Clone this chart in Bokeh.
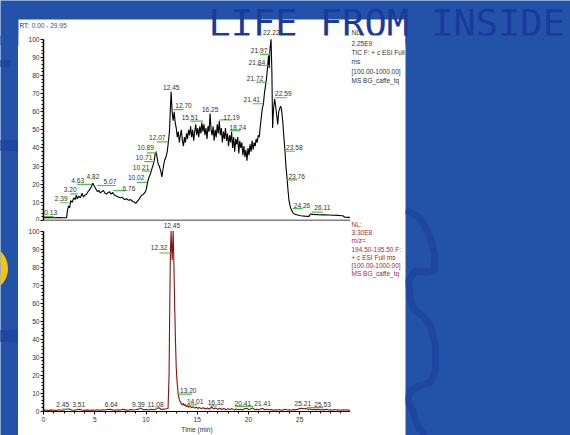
from bokeh.plotting import figure
from bokeh.models import Range1d, SingleIntervalTicker, Span
from bokeh.layouts import column, row
from bokeh.embed import file_html
from bokeh.resources import INLINE
from bokeh.core.properties import value

BLUE = "#2353a8"
DARK_BLUE = "#1f47a2"
NAVY = "#1b3a9c"
GREEN = "#4cc04c"
TXT = "#333333"
RED_TXT = "#a02a2a"
FONT = "Liberation Sans"

# ---------------- data: TIC trace (top) ----------------
tic_time = [0.0, 0.5, 1.0, 1.5, 2.0, 2.25, 2.35, 2.45, 2.55, 2.65, 2.8, 2.95, 3.1, 3.2, 3.3, 3.45, 3.6,
            3.75, 3.9, 4.05, 4.2, 4.35, 4.5, 4.65, 4.82, 4.95, 5.1, 5.25, 5.4, 5.55, 5.7, 5.85, 6.0,
            6.15, 6.3, 6.45, 6.6, 6.76, 6.9, 7.1, 7.3, 7.5, 7.7, 7.9, 8.1, 8.3, 8.5, 8.7, 8.9, 9.0,
            9.15, 9.3, 9.45, 9.6, 9.75, 9.9, 10.02, 10.15, 10.3, 10.45, 10.6, 10.71, 10.8, 10.89,
            11.0, 11.1, 11.2, 11.3, 11.45, 11.55, 11.65, 11.8, 11.95, 12.07, 12.2, 12.3, 12.38,
            12.45, 12.55, 12.65, 12.75, 12.85, 12.95, 13.05, 13.15, 13.25, 13.35, 13.45, 13.55,
            13.65, 13.75, 13.85, 13.95, 14.05, 14.15, 14.25, 14.35, 14.45, 14.55, 14.65, 14.75,
            14.85, 14.95, 15.05, 15.15, 15.25, 15.35, 15.45, 15.55, 15.65, 15.75, 15.85, 15.95,
            16.05, 16.15, 16.25, 16.35, 16.45, 16.55, 16.65, 16.75, 16.85, 16.95, 17.05, 17.15,
            17.25, 17.35, 17.45, 17.55, 17.65, 17.75, 17.85, 17.95, 18.05, 18.15, 18.25, 18.35,
            18.45, 18.55, 18.65, 18.75, 18.85, 18.95, 19.05, 19.15, 19.25, 19.35, 19.45, 19.55,
            19.65, 19.75, 19.85, 19.95, 20.05, 20.15, 20.25, 20.35, 20.45, 20.55, 20.65, 20.75,
            20.85, 20.95, 21.05, 21.15, 21.25, 21.35, 21.45, 21.55, 21.65, 21.75, 21.85, 21.95,
            22.02, 22.1, 22.2, 22.28, 22.35, 22.45, 22.55, 22.65, 22.75, 22.85, 22.95, 23.05,
            23.15, 23.25, 23.35, 23.45, 23.55, 23.65, 23.75, 23.85, 23.95, 24.1, 24.3, 24.5, 24.8,
            25.1, 25.5, 25.9, 26.05, 26.3, 26.8, 27.3, 27.8, 28.3, 28.8, 29.2, 29.4, 29.95]
tic_int = [1.5, 1.6, 1.5, 1.6, 1.5, 1.6, 6.0, 8.0, 7.0, 11.0, 10.0, 12.5, 11.5, 14.0, 12.0, 13.5, 12.5,
           15.0, 13.0, 14.0, 14.5, 16.0, 17.0, 18.5, 20.5, 19.0, 17.5, 16.0, 16.5, 15.2, 16.0, 16.5, 15.0,
           14.6, 15.5, 15.8, 14.5, 15.5, 14.0, 13.5, 13.0, 12.5, 12.8, 11.5, 12.0, 11.2, 11.5, 10.5, 10.0, 9.5,
           10.5, 11.5, 13.0, 14.0, 14.5, 15.5, 17.0, 21.0, 24.0, 26.0, 29.0, 31.0, 33.0, 36.5,
           38.0, 34.0, 31.0, 30.0, 27.0, 24.0, 28.0, 33.0, 35.0, 38.0, 44.0, 50.0, 62.0,
           71.0, 60.0, 55.0, 60.0, 54.0, 51.0, 46.0, 49.0, 43.0, 47.0, 50.0, 44.0,
           41.0, 46.0, 43.0, 48.0, 45.0, 50.0, 47.0, 52.0, 46.0, 50.0, 44.0, 49.0,
           53.0, 47.0, 51.0, 46.0, 52.0, 48.0, 54.0, 49.0, 53.0, 47.0, 51.0, 45.0,
           52.0, 49.0, 59.0, 50.0, 47.0, 52.0, 44.0, 50.0, 46.0, 53.0, 48.0, 55.0,
           47.0, 51.0, 43.0, 49.0, 45.0, 51.0, 44.0, 48.0, 41.0, 47.0, 43.0, 49.0,
           40.0, 46.0, 38.0, 45.0, 42.0, 46.0, 37.0, 44.0, 40.0, 43.0, 36.0, 41.0,
           35.0, 39.0, 33.0, 40.0, 36.0, 42.0, 38.0, 44.0, 39.0, 43.0, 41.0, 45.0,
           43.0, 47.0, 46.0, 52.0, 57.0, 62.0, 64.0, 70.0, 74.0, 78.0, 84.0, 91.0,
           84.0, 95.0, 100.0, 82.0, 51.0, 62.0, 67.0, 63.0, 58.0, 53.0, 60.0, 62.0,
           63.0, 60.0, 54.0, 46.0, 39.0, 30.0, 24.0, 17.0, 11.0, 7.0, 4.5, 3.5, 3.0,
           2.6, 2.4, 2.3, 3.6, 3.4, 3.2, 3.1, 3.0, 2.9, 2.8, 2.6, 1.8, 1.7]

# peak labels of the TIC trace: text, label centre (time, %), green tick (t0, t1, %)
tic_pk_text = ["0.13", "2.39", "3.20", "4.63", "4.82", "5.07", "6.76", "10.02", "10.21", "10.71",
               "10.89", "12.07", "12.45", "12.70", "15.51", "16.25", "17.19", "18.24", "21.41",
               "21.72", "21.84", "21.97", "22.22", "22.59", "23.58", "23.76", "24.26", "26.11"]
tic_pk_x = [0.71, 1.73, 2.60, 3.33, 4.82, 6.49, 8.34, 9.04, 9.52, 9.81,
            9.96, 11.10, 12.46, 13.66, 14.28, 16.26, 18.33, 18.96, 20.32,
            20.64, 20.81, 21.03, 22.23, 23.40, 24.47, 24.70, 25.22, 27.20]
tic_pk_y = [4.6, 12.0, 16.9, 22.1, 24.4, 21.5, 17.8, 23.9, 29.4, 34.9,
            40.1, 45.9, 73.5, 63.4, 56.6, 61.1, 57.0, 51.5, 66.6,
            78.2, 87.3, 93.8, 103.8, 69.9, 40.1, 24.3, 8.3, 7.0]
tic_g_x0 = [0.03, 1.66, 2.63, 3.28, 5.23, 6.79, 9.12, 9.61, 9.83, 10.10, 11.07, 12.69, 14.31,
            17.17, 18.21, 20.42, 20.74, 20.87, 21.13, 22.59, 23.56, 23.79, 24.31, 26.16]
tic_g_x1 = [1.00, 2.46, 3.34, 4.74, 7.01, 8.08, 10.10, 10.42, 10.81, 11.07, 12.20, 13.66, 15.58,
            18.37, 19.18, 21.45, 21.84, 21.94, 22.11, 23.73, 24.54, 24.76, 25.29, 27.23]
tic_g_y = [2.2, 9.8, 14.7, 19.9, 19.3, 16.5, 21.0, 27.2, 32.5, 37.3, 43.4, 61.2, 54.8,
           55.5, 49.6, 64.4, 76.3, 85.5, 91.6, 67.7, 38.2, 22.4, 6.5, 4.6]

tic_info = ["NL:", "2.25E9", "TIC F: + c ESI Full", "ms", "[100.00-1000.00]", "MS BG_caffe_tq"]

# ---------------- data: m/z 194.5-195.5 trace (bottom) ----------------
sim_time = [0.0, 0.25, 0.5, 0.75, 1.0, 1.25, 1.5, 1.75, 2.0, 2.25, 2.5, 2.75, 3.0, 3.25, 3.5, 3.75,
            4.0, 4.25, 4.5, 4.75, 5.0, 5.25, 5.5, 5.75, 6.0, 6.25, 6.5, 6.75, 7.0, 7.25, 7.5, 7.75,
            8.0, 8.25, 8.5, 8.75, 9.0, 9.25, 9.5, 9.75, 10.0, 10.25, 10.5, 10.75, 11.0, 11.25, 11.5,
            11.75, 12.0, 12.15, 12.25, 12.32, 12.38, 12.45, 12.5, 12.55, 12.6, 12.65, 12.72, 12.8,
            12.88, 12.95, 13.05, 13.15, 13.25, 13.35, 13.45, 13.55, 13.65, 13.75, 13.85, 13.95,
            14.05, 14.15, 14.3, 14.45, 14.6, 14.75, 14.9, 15.05, 15.2, 15.4, 15.6, 15.8, 16.0,
            16.2, 16.4, 16.6, 16.8, 17.0, 17.2, 17.4, 17.6, 17.8, 18.0, 18.2, 18.4, 18.6, 18.8,
            19.0, 19.2, 19.4, 19.6, 19.8, 20.0, 20.2, 20.4, 20.6, 20.8, 21.0, 21.2, 21.4, 21.6,
            21.8, 22.0, 22.2, 22.4, 22.6, 22.8, 23.0, 23.2, 23.4, 23.6, 23.8, 24.0, 24.2, 24.4,
            24.6, 24.8, 25.0, 25.2, 25.4, 25.6, 25.8, 26.0, 26.2, 26.4, 26.6, 26.8, 27.0, 27.2,
            27.4, 27.6, 27.8, 28.0, 28.2, 28.4, 28.6, 28.8, 29.0, 29.2, 29.4, 29.6, 29.8, 29.95]
sim_int = [0.4, 0.6, 0.3, 0.7, 0.5, 0.4, 0.8, 0.5, 0.6, 0.9, 1.2, 0.6, 0.5, 0.8, 1.0, 0.6,
           0.4, 0.7, 0.5, 0.6, 0.4, 0.8, 0.5, 0.7, 0.6, 0.9, 1.0, 0.7, 0.5, 0.8, 0.6, 1.0,
           0.7, 0.5, 0.9, 0.6, 0.8, 1.1, 1.6, 0.7, 0.9, 0.6, 1.0, 0.8, 1.2, 1.9, 0.9,
           1.1, 1.3, 1.5, 20.0, 60.0, 88.0, 100.0, 90.0, 84.0, 92.0, 100.0, 82.0, 58.0,
           38.0, 24.0, 15.0, 9.0, 6.5, 5.0, 4.2, 3.5, 4.4, 3.0, 3.6, 2.5,
           3.2, 2.2, 2.8, 1.9, 2.4, 1.7, 2.2, 1.5, 2.0, 1.4, 1.9, 1.2, 1.7,
           1.1, 2.3, 1.3, 1.8, 1.0, 1.6, 0.9, 1.5, 0.8, 1.3, 0.9, 1.4, 0.7, 1.2,
           0.8, 1.1, 0.6, 1.3, 1.6, 0.9, 1.2, 1.8, 0.8, 1.1, 0.7, 1.3, 1.5, 0.8,
           1.0, 0.6, 0.9, 0.5, 0.8, 0.6, 0.9, 0.5, 0.7, 1.0, 0.6, 0.8, 0.5, 0.9,
           0.7, 1.1, 1.4, 1.6, 1.3, 1.5, 1.0, 1.2, 0.8, 1.1, 0.7, 1.0, 0.6, 0.9,
           0.7, 1.0, 0.6, 0.8, 0.5, 0.9, 0.6, 0.8, 0.5, 0.7, 0.6, 0.8, 0.5, 0.6]

sim_pk_text = ["2.45", "3.51", "6.64", "9.39", "11.08", "12.32", "12.45", "13.20", "14.01",
               "16.32", "20.41", "21.41", "25.21", "25.53"]
sim_pk_x = [1.87, 3.44, 6.60, 9.25, 10.93, 11.28, 12.53, 14.12, 14.80, 16.82, 19.45, 21.37, 25.30, 27.23]
sim_pk_y = [3.5, 3.5, 3.5, 3.5, 3.5, 90.6, 103.0, 11.2, 5.4, 4.8, 4.4, 4.4, 4.4, 3.9]
sim_g_x0 = [1.82, 9.28, 10.91, 11.32, 13.17, 13.99, 16.26, 18.70, 25.68]
sim_g_x1 = [2.56, 9.44, 11.13, 12.46, 14.48, 14.97, 16.91, 20.48, 27.29]
sim_g_y = [1.1, 1.5, 1.7, 87.8, 9.4, 3.5, 2.9, 2.6, 2.0]

sim_info = ["NL:", "3.30E8", "m/z=", "194.50-195.50 F:", "+ c ESI Full ms", "[100.00-1000.00]",
            "MS BG_caffe_tq"]

BANNER = "LIFE FROM INSIDE"

# top chart geometry (page pixels): time 0 -> x 43, 29.95 -> x 350; 0 % -> y 220, 100 % -> y 38.7
PX_PER_MIN = 307 / 29.95
PX_PER_PCT = 1.813
TOP_Y = 35           # where the charts start (page y)
HEAD_H = TOP_Y + 10  # header figure is taller and tucked under the charts below it
TOP_MAX = 101.5      # labels above this level are drawn in the header figure


def panel(w, h, x0, x1, y0, y1, fill):
    """Figure whose frame is the whole canvas, with page-pixel coordinates."""
    return figure(width=w, height=h, x_range=Range1d(x0, x1), y_range=Range1d(y0, y1),
                  x_axis_type=None, y_axis_type=None, toolbar_location=None,
                  output_backend="svg", min_border=0, background_fill_color=fill,
                  border_fill_color=fill, outline_line_color=None)


def small_text(f, xs, ys, texts, color, align="left", size="6.5px", **kw):
    f.text(x=xs, y=ys, text=texts, text_font=value(FONT), text_font_size=size,
           text_color=color, text_align=align, text_baseline="middle", **kw)


def style_y(ax):
    ax.ticker = SingleIntervalTicker(interval=10, num_minor_ticks=5)
    ax.bounds = (0, 100)
    ax.axis_line_color = "black"
    ax.axis_line_width = 1.5
    ax.major_tick_line_color = "black"
    ax.minor_tick_line_color = "black"
    ax.major_tick_out = 3
    ax.major_tick_in = 0
    ax.minor_tick_out = 2
    ax.minor_tick_in = 0
    ax.major_label_standoff = 1
    ax.major_label_text_font = FONT
    ax.major_label_text_font_size = "6.6px"
    ax.major_label_text_color = TXT


hi = [i for i, v in enumerate(tic_pk_y) if v > TOP_MAX]
lo = [i for i, v in enumerate(tic_pk_y) if v <= TOP_MAX]

# ---------------- header: blue band, top of the white panel, banner ----------------
H = panel(570, HEAD_H, 0, 570, HEAD_H, 0, BLUE)
H.margin = (0, 0, TOP_Y - HEAD_H, 0)
H.quad(left=[18], right=[405], top=[19], bottom=[HEAD_H + 2], color="white", line_color=None)
H.text(x=[208], y=[23], text=[BANNER], text_font=value("DejaVu Sans Mono"),
       text_font_size="37px", text_color=NAVY, text_align="left", text_baseline="alphabetic")
small_text(H, [19], [25], ["RT:"], TXT)
small_text(H, [31.3], [25], ["0.00 - 29.95"], "#3a48a8")
small_text(H, [351], [32.0], tic_info[:1], TXT)
# peak label(s) that rise above the chart frame, placed with the chart's own scales
H.extra_x_ranges = {"t": Range1d(-43 / PX_PER_MIN, (570 - 43) / PX_PER_MIN)}
H.extra_y_ranges = {"i": Range1d((220 - HEAD_H) / PX_PER_PCT, 220 / PX_PER_PCT)}
small_text(H, [tic_pk_x[i] for i in hi], [tic_pk_y[i] for i in hi], [tic_pk_text[i] for i in hi],
           TXT, align="center", size="6.6px", x_range_name="t", y_range_name="i")

# ---------------- blue sides ----------------
L = panel(18, 435 - TOP_Y, 0, 18, 435, TOP_Y, BLUE)
L.quad(left=[0, 0, 0], right=[10, 18, 18], top=[60, 140, 330], bottom=[66, 150, 341],
       color=DARK_BLUE)
L.arc(x=[-16], y=[268], radius=20, start_angle=-1.1, end_angle=1.1, line_width=7,
      line_color="#f2c40c")

R = panel(165, 435 - TOP_Y, 405, 570, 435, TOP_Y, BLUE)
R.line(x=[405, 410, 419, 424, 430, 434, 434, 425, 415, 408, 410, 414, 423, 430, 435, 435, 430,
          420, 410, 407, 412, 415, 420, 425],
       y=[210, 212, 217, 225, 238, 255, 270, 272, 270, 280, 300, 310, 316, 325, 345, 370, 382,
          385, 390, 400, 410, 420, 430, 435],
       line_color=DARK_BLUE, line_width=7)

# ---------------- top chart (TIC) ----------------
T_H = 221 - TOP_Y
y0_top = -1 / PX_PER_PCT
T = figure(width=332, height=T_H, x_range=Range1d(0, 29.95),
           y_range=Range1d(y0_top, y0_top + T_H / PX_PER_PCT),
           x_axis_type=None, toolbar_location=None, output_backend="svg",
           min_border_left=25, min_border_right=0, min_border_top=0, min_border_bottom=0,
           background_fill_color="white", border_fill_color="white", outline_line_color=None)
T.grid.visible = False
style_y(T.yaxis[0])
T.add_layout(Span(location=0, dimension="width", line_color="#808080", line_width=2))
T.line(tic_time, tic_int, line_color="black", line_width=1.1)
T.segment(x0=tic_g_x0, y0=tic_g_y, x1=tic_g_x1, y1=tic_g_y, line_color=GREEN, line_width=1.2)
small_text(T, [tic_pk_x[i] for i in lo], [tic_pk_y[i] for i in lo], [tic_pk_text[i] for i in lo],
           TXT, align="center", size="6.6px")

TI = panel(55, T_H, 350, 405, 221, TOP_Y, "white")
small_text(TI, [351] * (len(tic_info) - 1), [42.5, 51.8, 61.2, 70.5, 79.5], tic_info[1:], TXT)

# ---------------- bottom chart (m/z 195) ----------------
B = figure(width=332, height=214, x_range=Range1d(0, 29.95), y_range=Range1d(-0.2, 105.3),
           toolbar_location=None, output_backend="svg",
           min_border_left=25, min_border_right=0, min_border_top=0, min_border_bottom=23,
           background_fill_color="white", border_fill_color="white", outline_line_color=None)
B.grid.visible = False
style_y(B.yaxis[0])
xa = B.xaxis[0]
xa.ticker = SingleIntervalTicker(interval=5, num_minor_ticks=5)
xa.axis_line_color = "black"
xa.major_tick_line_color = "black"
xa.minor_tick_line_color = "black"
xa.major_tick_out = 3
xa.major_tick_in = 0
xa.minor_tick_out = 2
xa.minor_tick_in = 0
xa.major_label_standoff = 2
xa.major_label_text_font = FONT
xa.major_label_text_font_size = "6.6px"
xa.major_label_text_color = TXT
xa.axis_label = "Time (min)"
xa.axis_label_text_font = FONT
xa.axis_label_text_font_size = "6.6px"
xa.axis_label_text_font_style = "normal"
xa.axis_label_text_color = TXT
xa.axis_label_standoff = 1
B.line(sim_time, sim_int, line_color="#8a1010", line_width=1.1)
B.segment(x0=sim_g_x0, y0=sim_g_y, x1=sim_g_x1, y1=sim_g_y, line_color=GREEN, line_width=1.2)
small_text(B, sim_pk_x, sim_pk_y, sim_pk_text, TXT, align="center", size="6.6px")

BI = panel(55, 214, 350, 405, 435, 221, "white")
small_text(BI, [351] * len(sim_info), [224.5, 233.5, 242.8, 252.3, 262.0, 271.0, 280.0],
           sim_info, RED_TXT)

white = column(row(T, TI, spacing=0), row(B, BI, spacing=0), spacing=0)
layout = column(H, row(L, white, R, spacing=0), spacing=0)
open("out.html", "w").write(file_html(layout, INLINE))
